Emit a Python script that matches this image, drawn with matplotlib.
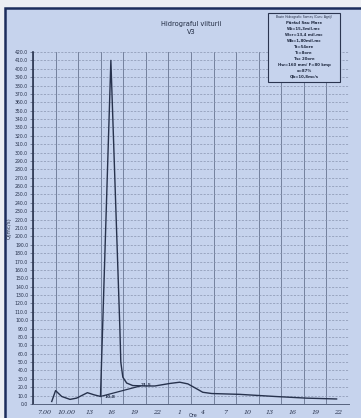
import matplotlib
matplotlib.use("Agg")
import matplotlib.pyplot as plt
from matplotlib.patches import Rectangle

# Hydrograph data (x in category units, 14 time steps of 3 hours)
hour_labels = ["7.00", "10.00", "13", "16", "19", "22", "1", "4", "7", "10", "13", "16", "19", "22"]
q_time = [0.83, 1.0, 1.27, 1.64, 1.93, 2.41, 2.70, 2.99, 3.45, 3.85, 3.89, 3.98,
          4.15, 4.42, 4.96, 5.40, 6.06, 6.50, 6.86, 7.26, 7.52, 7.92, 9.16,
          10.71, 12.12, 13.45]
q_vals = [3, 16, 9, 5.5, 7, 13.5, 11, 9, 410, 89, 50, 32,
          25, 22, 21.5, 21.5, 24.5, 26, 24, 18, 14, 12.5, 11.5,
          9, 7, 6]

# baseflow separation line
base_time = [2.99, 4.75]
base_vals = [9, 21.5]

info_lines = ["Bazin Hidrografic Someș (Curs: Agrij)", "Pârâul Sau Mare", "Wt=15,3mil.mc",
              "Wcr=13,4 mil.mc", "Wb=1,80mil.mc", "Tt=54ore", "Tc=8ore", "Tsc 20ore",
              "Hw=160 mm/ F=80 kmp", "α=87%", "Qb=10,8mc/s"]

bg = "#c6d3ed"
ink = "#27324d"

fig = plt.figure(figsize=(3.61, 4.18), dpi=100, facecolor="#eceef3")
fig.add_artist(Rectangle((5 / 361, -0.02), 1.0, 1 - 8 / 418 + 0.02, transform=fig.transFigure,
                         facecolor=bg, edgecolor="#1d2d5c", linewidth=1.8, zorder=0))

ax = fig.add_axes([33 / 361, 1 - 404 / 418, 316 / 361, 352 / 418])
ax.set_facecolor(bg)
ax.set_xlim(0, 14)
ax.set_ylim(0, 420)

ax.set_yticks(range(0, 421, 10))
ax.set_yticklabels([f"{v:.1f}" for v in range(0, 421, 10)], fontsize=3.3, color="#26304a")
ax.set_xticks([i + 0.5 for i in range(14)])
ax.set_xticklabels(hour_labels, fontsize=4.6, family="DejaVu Serif", style="italic", color="#26304a")
ax.set_xticks(range(15), minor=True)
ax.tick_params(axis="x", which="both", length=0, pad=4)
ax.tick_params(axis="y", length=2, width=0.5, pad=1.5, color="#55617d")

ax.grid(which="minor", axis="x", color="#74819d", linewidth=0.7)
ax.grid(which="major", axis="y", color="#8793ae", linewidth=0.5, linestyle=(0, (3, 2)))
ax.set_axisbelow(True)
for side in ["top", "right"]:
    ax.spines[side].set_visible(False)
ax.spines["left"].set_color("#2b3550")
ax.spines["left"].set_linewidth(1.2)
ax.spines["bottom"].set_color("#55617d")
ax.spines["bottom"].set_linewidth(0.7)

ax.plot(q_time, q_vals, color=ink, linewidth=1.0)
ax.plot(base_time, base_vals, color=ink, linewidth=0.9)
ax.text(3.4, 8, "10,8", fontsize=3.2, fontweight="bold", color=ink, va="center", ha="center")
ax.text(5.0, 22.5, "21,5", fontsize=3.2, fontweight="bold", color=ink, va="center", ha="center")

ax.set_ylabel("Q(mc/s)", fontsize=4, color="#26304a", labelpad=2)
ax.text(7.1, -14, "Ore", fontsize=3.5, color="#26304a", ha="center", va="center", clip_on=False)

fig.text(191 / 361, 1 - 24 / 418, "Hidrograful viiturii", fontsize=4.8, ha="center", va="center", color="#1f2940")
fig.text(191 / 361, 1 - 32 / 418, "V3", fontsize=4.8, ha="center", va="center", color="#1f2940")

# info box
fig.add_artist(Rectangle((268 / 361, 1 - 82 / 418), 72 / 361, 69 / 418, transform=fig.transFigure,
                         facecolor=bg, edgecolor="#2b3550", linewidth=0.8, zorder=3))
for i, line in enumerate(info_lines):
    y = 17 + i * 6.0
    fig.text(304 / 361, 1 - y / 418, line, fontsize=2.8 if i else 2.2, ha="center", va="center",
             color="#1f2940", fontweight="bold" if i else "normal", zorder=4)

fig.savefig("out.png", dpi=100, facecolor=fig.get_facecolor())
